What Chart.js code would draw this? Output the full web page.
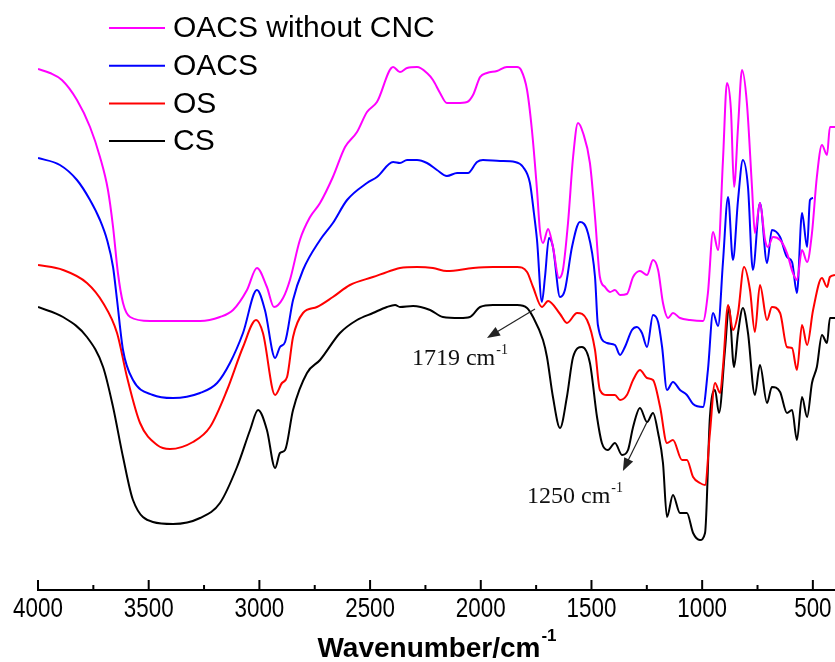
<!DOCTYPE html>
<html>
<head>
<meta charset="utf-8">
<script src="https://cdn.jsdelivr.net/npm/chart.js@4.4.1/dist/chart.umd.min.js"></script>
<style>
html, body { margin: 0; padding: 0; background: #fff; }
</style>
</head>
<body>
<canvas id="myChart" width="835" height="662"></canvas>
<script>
// FTIR spectra, wavenumber in cm-1, transmittance in arbitrary (offset) units
var oacsNoCncWn = [4000, 3946, 3892, 3824, 3765, 3720, 3684, 3661, 3639, 3616,
    3584, 3494, 3268, 3178, 3119, 3056, 3011, 2966, 2934, 2893,
    2862, 2817, 2771, 2726, 2668, 2613, 2559, 2514, 2469, 2396,
    2365, 2333, 2288, 2243, 2216, 2184, 2153, 2107, 2062, 2035,
    2003, 1972, 1927, 1882, 1836, 1818, 1791, 1769, 1746, 1733,
    1719, 1696, 1674, 1647, 1629, 1606, 1583, 1561, 1538, 1507,
    1484, 1462, 1439, 1416, 1394, 1371, 1340, 1312, 1281, 1249,
    1222, 1199, 1177, 1154, 1132, 1100, 1055, 996, 974, 951,
    928, 906, 888, 870, 856, 838, 820, 798, 775, 762,
    739, 716, 703, 680, 648, 617, 590, 572, 549, 526,
    504, 482, 459, 436, 423, 400];
var oacsNoCncT = [521, 517, 510, 490, 463, 433, 400, 363, 317, 287,
    273, 269, 269, 273, 280, 300, 322, 303, 283, 292,
    310, 350, 373, 387, 413, 443, 458, 478, 488, 523,
    518, 522, 523, 517, 510, 497, 487, 487, 488, 495,
    513, 517, 519, 523, 523, 520, 500, 460, 400, 360,
    347, 361, 343, 312, 320, 367, 433, 467, 457, 427,
    373, 313, 303, 298, 300, 295, 296, 313, 319, 315,
    330, 320, 287, 272, 277, 272, 270, 269, 297, 358,
    340, 430, 507, 480, 403, 463, 520, 487, 403, 357,
    387, 350, 343, 353, 350, 337, 317, 310, 340, 328,
    357, 413, 445, 435, 463, 463];

var oacsWn = [4000, 3901, 3824, 3765, 3720, 3688, 3661, 3643, 3616, 3571,
    3481, 3390, 3268, 3191, 3133, 3074, 3011, 2975, 2929, 2907,
    2884, 2848, 2803, 2726, 2668, 2604, 2514, 2469, 2396, 2365,
    2333, 2288, 2243, 2198, 2153, 2107, 2058, 2017, 1990, 1913,
    1845, 1809, 1778, 1760, 1746, 1724, 1710, 1692, 1674, 1642,
    1620, 1588, 1552, 1516, 1484, 1471, 1430, 1394, 1371, 1349,
    1317, 1295, 1272, 1249, 1222, 1199, 1181, 1159, 1132, 1100,
    1069, 1041, 996, 974, 951, 928, 906, 883, 861, 838,
    816, 793, 771, 739, 707, 685, 648, 617, 594, 572,
    549, 526, 513, 499];
var oacsT = [432, 425, 410, 390, 370, 350, 323, 290, 240, 210,
    195, 192, 197, 207, 227, 257, 300, 280, 232, 243,
    248, 290, 320, 350, 367, 390, 407, 413, 428, 427,
    430, 430, 427, 420, 414, 417, 417, 428, 430, 429,
    428, 423, 407, 377, 350, 288, 313, 352, 343, 293,
    300, 343, 368, 357, 313, 265, 247, 245, 235, 243,
    260, 263, 257, 243, 275, 268, 243, 200, 208, 200,
    195, 186, 183, 220, 277, 264, 328, 393, 330, 390,
    430, 403, 320, 387, 327, 360, 353, 333, 328, 297,
    377, 343, 390, 392];

var osWn = [4000, 3887, 3779, 3706, 3643, 3598, 3539, 3462, 3404, 3300,
    3223, 3146, 3074, 3015, 2984, 2929, 2898, 2875, 2848, 2803,
    2740, 2668, 2591, 2487, 2396, 2365, 2288, 2216, 2153, 2035,
    1945, 1836, 1791, 1764, 1724, 1696, 1642, 1611, 1565, 1520,
    1484, 1462, 1430, 1394, 1371, 1340, 1312, 1281, 1249, 1222,
    1190, 1159, 1132, 1091, 1069, 1041, 1010, 987, 965, 942,
    919, 906, 883, 861, 838, 811, 784, 762, 739, 707,
    685, 648, 617, 594, 572, 549, 526, 499, 459, 436,
    423, 400];
var osT = [325, 320, 307, 287, 257, 213, 167, 145, 141, 148,
    163, 200, 243, 270, 257, 195, 207, 213, 253, 277,
    283, 293, 305, 313, 320, 322, 323, 322, 319, 322,
    323, 323, 318, 303, 283, 289, 276, 267, 277, 270,
    240, 200, 195, 195, 190, 195, 210, 220, 212, 210,
    183, 147, 150, 130, 130, 113, 107, 105, 157, 207,
    197, 223, 285, 260, 277, 323, 300, 258, 305, 270,
    283, 277, 243, 242, 220, 265, 245, 280, 312, 303,
    313, 315];

var csWn = [4000, 3887, 3779, 3706, 3661, 3616, 3571, 3481, 3390, 3268,
    3178, 3101, 3042, 3006, 2966, 2929, 2907, 2884, 2848, 2785,
    2726, 2636, 2559, 2487, 2424, 2387, 2365, 2306, 2229, 2171,
    2094, 2049, 2003, 1945, 1836, 1791, 1764, 1719, 1701, 1674,
    1642, 1611, 1583, 1543, 1507, 1475, 1453, 1426, 1394, 1362,
    1335, 1312, 1281, 1249, 1222, 1199, 1177, 1159, 1132, 1100,
    1069, 1041, 1010, 987, 965, 942, 924, 897, 879, 856,
    838, 816, 793, 762, 739, 707, 685, 648, 617, 594,
    572, 549, 526, 504, 482, 459, 436, 423, 400];
var csT = [283, 273, 253, 223, 183, 133, 90, 68, 66, 72,
    87, 123, 160, 180, 160, 122, 137, 140, 180, 217,
    230, 257, 270, 277, 283, 285, 283, 284, 280, 273,
    272, 273, 283, 285, 285, 282, 273, 250, 233, 193,
    162, 193, 233, 243, 227, 173, 147, 140, 147, 135,
    140, 163, 182, 168, 177, 157, 127, 73, 95, 77,
    77, 57, 50, 57, 173, 200, 177, 240, 283, 223,
    257, 282, 257, 195, 225, 187, 203, 198, 177, 180,
    150, 193, 173, 207, 223, 255, 247, 272, 272];

var majorTicks = [4000, 3500, 3000, 2500, 2000, 1500, 1000, 500];
var minorTicks = [3750, 3250, 2750, 2250, 1750, 1250, 750];
var axisTitle = 'Wavenumber/cm';

function pts(wn, t) {
    return wn.map(function (w, i) { return { x: w, y: t[i] }; });
}

// legend, bottom axis with inward ticks, peak labels
var decorations = {
    id: 'decorations',
    afterDraw: function (chart) {
        var ctx = chart.ctx;
        var xs = chart.scales.x, ys = chart.scales.y;
        var area = chart.chartArea;
        var base = area.bottom;
        ctx.save();

        // axis
        ctx.strokeStyle = '#000';
        ctx.lineWidth = 2;
        ctx.beginPath();
        ctx.moveTo(area.left - 1, base);
        ctx.lineTo(area.right, base);
        ctx.stroke();
        ctx.fillStyle = '#000';
        ctx.textAlign = 'center';
        ctx.textBaseline = 'alphabetic';
        majorTicks.forEach(function (v) {
            var px = xs.getPixelForValue(v);
            ctx.beginPath();
            ctx.moveTo(px, base);
            ctx.lineTo(px, base - 10);
            ctx.stroke();
            // tick labels in the original are condensed
            ctx.save();
            ctx.translate(px, base + 27);
            ctx.scale(0.8, 1);
            ctx.font = '28px "Liberation Sans", Arial';
            ctx.fillText(String(v), 0, 0);
            ctx.restore();
        });
        minorTicks.forEach(function (v) {
            var px = xs.getPixelForValue(v);
            ctx.beginPath();
            ctx.moveTo(px, base);
            ctx.lineTo(px, base - 5);
            ctx.stroke();
        });

        // axis title with superscript
        ctx.font = 'bold 28px "Liberation Sans", Arial';
        var w1 = ctx.measureText(axisTitle).width;
        ctx.font = 'bold 17px "Liberation Sans", Arial';
        var w2 = ctx.measureText('-1').width;
        var tx = (area.left + area.right) / 2 - (w1 + w2) / 2;
        ctx.textAlign = 'left';
        ctx.font = 'bold 28px "Liberation Sans", Arial';
        ctx.fillText(axisTitle, tx, 657);
        ctx.font = 'bold 17px "Liberation Sans", Arial';
        ctx.fillText('-1', tx + w1 + 1, 641);

        // legend
        ctx.font = '30px "Liberation Sans", Arial';
        ctx.textBaseline = 'middle';
        chart.data.datasets.forEach(function (ds, i) {
            var ly = 28 + i * 37.7;
            ctx.strokeStyle = ds.borderColor;
            ctx.lineWidth = 2;
            ctx.beginPath();
            ctx.moveTo(109, ly);
            ctx.lineTo(165, ly);
            ctx.stroke();
            ctx.fillStyle = '#000';
            ctx.fillText(ds.label, 173, ly + 1);
        });

        // peak labels
        function arrow(x0, y0, x1, y1) {
            var a = xs.getPixelForValue(x0), b = ys.getPixelForValue(y0);
            var c = xs.getPixelForValue(x1), d = ys.getPixelForValue(y1);
            var ang = Math.atan2(d - b, c - a);
            ctx.strokeStyle = '#222';
            ctx.fillStyle = '#222';
            ctx.lineWidth = 1.2;
            ctx.beginPath();
            ctx.moveTo(a, b);
            ctx.lineTo(c - 10 * Math.cos(ang), d - 10 * Math.sin(ang));
            ctx.stroke();
            ctx.beginPath();
            ctx.moveTo(c, d);
            ctx.lineTo(c - 13 * Math.cos(ang) + 5 * Math.sin(ang), d - 13 * Math.sin(ang) - 5 * Math.cos(ang));
            ctx.lineTo(c - 13 * Math.cos(ang) - 5 * Math.sin(ang), d - 13 * Math.sin(ang) + 5 * Math.cos(ang));
            ctx.closePath();
            ctx.fill();
        }
        function peakText(txt, xv, yv) {
            var px = xs.getPixelForValue(xv), py = ys.getPixelForValue(yv);
            ctx.fillStyle = '#111';
            ctx.textBaseline = 'alphabetic';
            ctx.font = '24px "Liberation Serif", "Times New Roman", serif';
            ctx.fillText(txt, px, py);
            var w = ctx.measureText(txt).width;
            ctx.font = '14px "Liberation Serif", "Times New Roman", serif';
            ctx.fillText('-1', px + w + 1, py - 11);
        }
        arrow(1755, 281, 1972, 252);
        peakText('1719 cm', 2311, 225);
        arrow(1249, 168, 1358, 119);
        peakText('1250 cm', 1791, 87);

        ctx.restore();
    }
};

var ctx = document.getElementById('myChart').getContext('2d');
var myChart = new Chart(ctx, {
    type: 'line',
    data: {
        datasets: [{
            label: 'OACS without CNC',
            data: pts(oacsNoCncWn, oacsNoCncT),
            borderColor: '#ff00ff'
        },
        {
            label: 'OACS',
            data: pts(oacsWn, oacsT),
            borderColor: '#0000ff'
        },
        {
            label: 'OS',
            data: pts(osWn, osT),
            borderColor: '#ff0000'
        },
        {
            label: 'CS',
            data: pts(csWn, csT),
            borderColor: '#000000'
        }]
    },
    options: {
        responsive: false,
        animation: false,
        datasets: {
            line: {
                borderWidth: 2,
                pointRadius: 0,
                fill: false,
                cubicInterpolationMode: 'monotone'
            }
        },
        layout: {
            padding: { left: 38, right: 0, top: 0, bottom: 0 }
        },
        plugins: {
            legend: { display: false },
            tooltip: { enabled: false }
        },
        scales: {
            x: {
                type: 'linear',
                reverse: true,
                min: 400,
                max: 4000,
                grid: { display: false },
                border: { display: false },
                ticks: { display: false },
                afterFit: function (scale) { scale.height = 72; }
            },
            y: {
                display: false,
                min: 0,
                max: 590
            }
        }
    },
    plugins: [decorations]
});
</script>
</body>
</html>
